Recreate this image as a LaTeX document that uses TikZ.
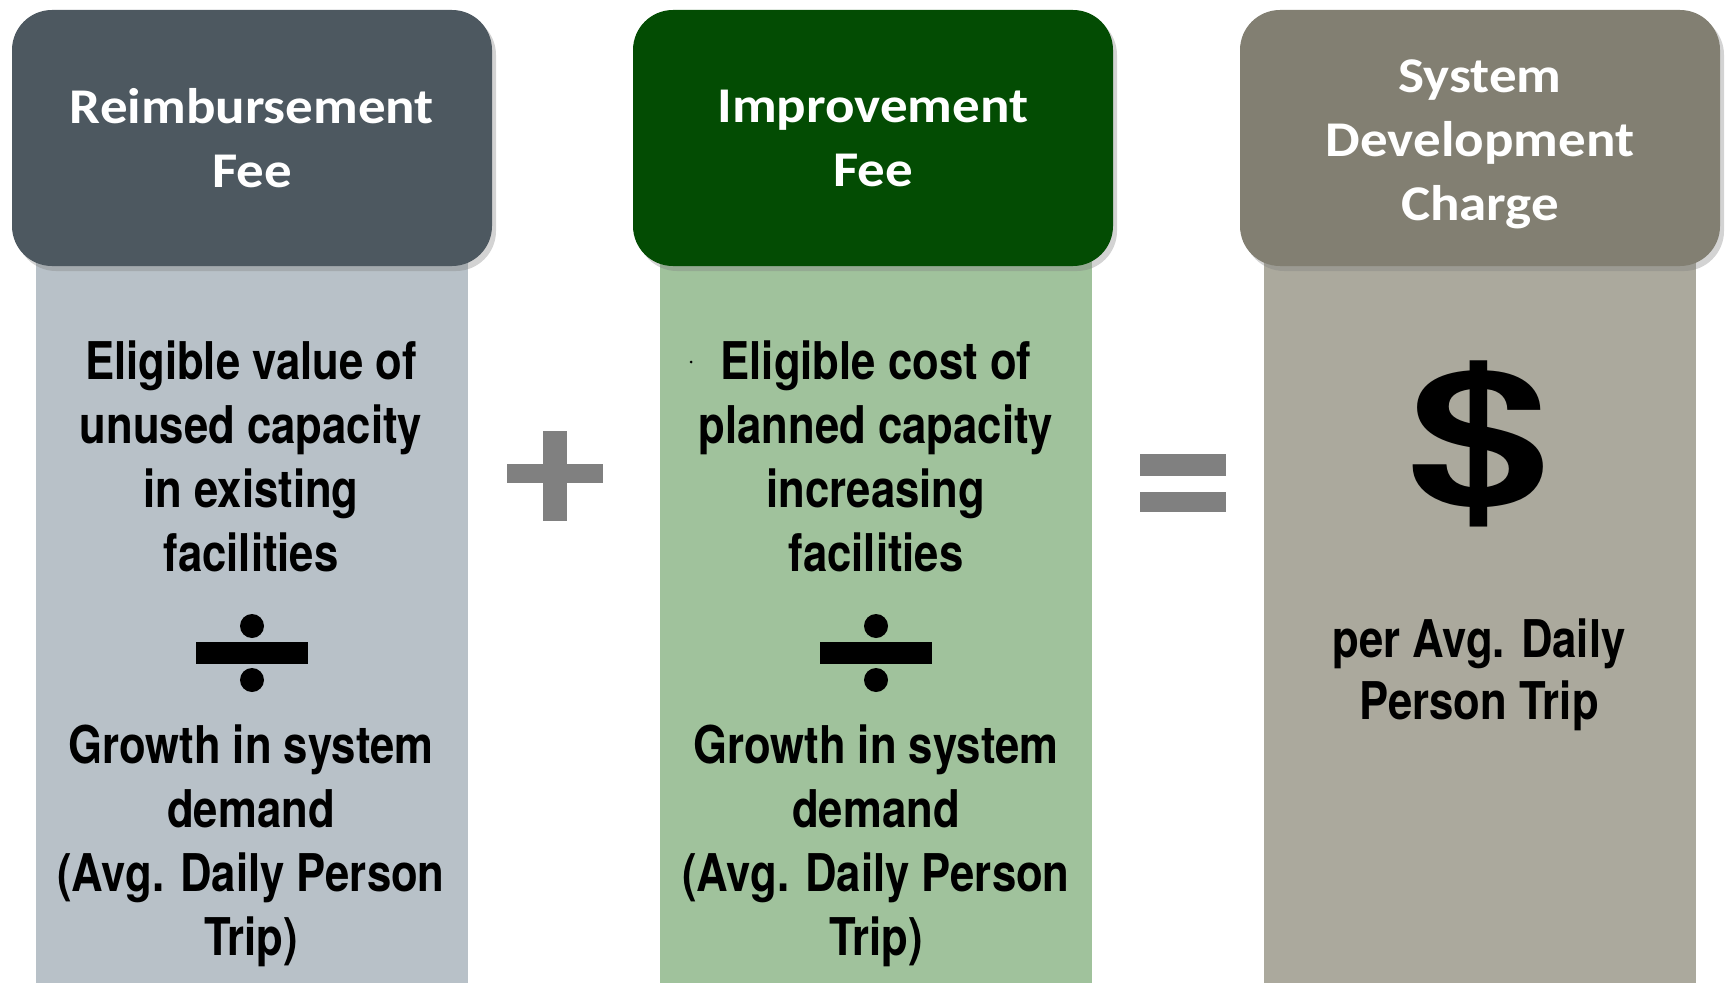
\documentclass[tikz,border=0pt]{standalone}
\usepackage{fontspec}
\usetikzlibrary{shadows}
\newfontfamily\bodyfont[FakeStretch=0.84]{TeX Gyre Heros}
\newfontfamily\hdrfont[FakeStretch=1.1]{Carlito}
\newfontfamily\dollarfont{TeX Gyre Heros}
\definecolor{hdra}{RGB}{77,88,96}
\definecolor{boxa}{RGB}{184,193,200}
\definecolor{hdrb}{RGB}{3,76,3}
\definecolor{boxb}{RGB}{160,194,156}
\definecolor{hdrc}{RGB}{130,127,114}
\definecolor{boxc}{RGB}{171,169,157}
\definecolor{signgray}{RGB}{128,128,128}
\tikzset{
  hdr/.style={rounded corners=40pt, minimum width=480pt, minimum height=256pt,
    inner sep=0pt, align=center, text=white,
    font=\hdrfont\bfseries\fontsize{50}{64}\selectfont,
    drop shadow={shadow xshift=4pt, shadow yshift=-5pt, opacity=0.35}},
  hdrtext/.style={inner sep=0pt, align=center, text=white,
    font=\hdrfont\bfseries\fontsize{50}{64}\selectfont},
  colbox/.style={minimum width=432pt, minimum height=783pt, inner sep=0pt},
  txt/.style={anchor=base, inner sep=0pt, font=\bodyfont\bfseries\fontsize{52}{61}\selectfont},
  sign/.style={fill=signgray}
}

\begin{document}
\begin{tikzpicture}[x=1pt,y=-1pt]
\useasboundingbox (0,0) rectangle (1729,987);
% column bodies
\node [colbox,fill=boxa] at (252,591.5) (boxa) {};
\node [colbox,fill=boxb] at (876,591.5) (boxb) {};
\node [colbox,fill=boxc] at (1480,591.5) (boxc) {};
% headers
\node [hdr,fill=hdra] at (252,138) (reimb) {Reimbursement\\Fee};
\node [hdr,fill=hdrb] at (873,138) (improv) {Improvement\\Fee};
\node [hdr,fill=hdrc] at (1480,138) (sdc) {};
\node [hdrtext] at (1480,144) (sdctext) {System\\Development\\Charge};
%
% left column
\foreach \t/\y [count=\i] in {{Eligible value of}/379, {unused capacity}/443, {in existing}/507, {facilities}/571}
  \node [txt] at (251,\y) (lefttop\i) {\t};
\foreach \t/\y [count=\i] in {{Growth in system}/763, {demand}/827, {(Avg. Daily Person}/891, {Trip)}/955}
  \node [txt] at (251,\y) (leftbot\i) {\t};
\fill (196,642) rectangle (308,664);
\fill (252,626) circle (12);
\fill (252,680) circle (12);
%
% middle column
\foreach \t/\y [count=\i] in {{Eligible cost of}/379, {planned capacity}/443, {increasing}/507, {facilities}/571}
  \node [txt] at (876,\y) (midtop\i) {\t};
\foreach \t/\y [count=\i] in {{Growth in system}/763, {demand}/827, {(Avg. Daily Person}/891, {Trip)}/955}
  \node [txt] at (876,\y) (midbot\i) {\t};
\fill (820,642) rectangle (932,664);
\fill (876,626) circle (12);
\fill (876,680) circle (12);
\fill (691,362) circle (1.5);
%
% right column
\node [inner sep=0pt] at (1479,444) (dollar) {\resizebox*{143pt}{166pt}{\dollarfont\bfseries\$}};
\node [txt] at (1479,657) (per1) {per Avg. Daily};
\node [txt] at (1479,719) (per2) {Person Trip};
%
% plus and equals
\fill [sign] (507,464) rectangle (603,483);
\fill [sign] (543,431) rectangle (567,521);
\fill [sign] (1140,454) rectangle (1226,476);
\fill [sign] (1140,492) rectangle (1226,512);
\end{tikzpicture}
\end{document}
